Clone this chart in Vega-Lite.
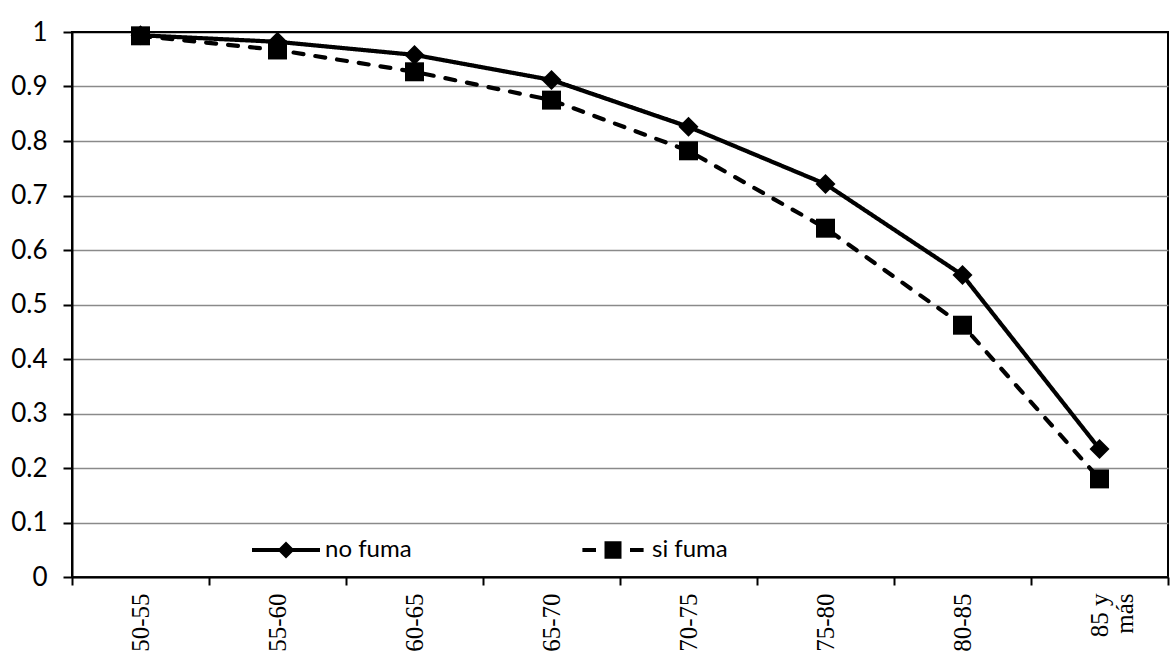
{
  "$schema": "https://vega.github.io/schema/vega-lite/v6.json",
  "width": 1096,
  "height": 545,
  "autosize": {"type": "none"},
  "padding": {"left": 72, "top": 32, "right": 4, "bottom": 85},
  "background": "white",
  "config": {
    "view": {"stroke": "black", "strokeWidth": 2},
    "font": "Lato"
  },
  "data": {
    "values": [
      {"age": "50-55", "series": "no fuma", "p": 0.994},
      {"age": "55-60", "series": "no fuma", "p": 0.982},
      {"age": "60-65", "series": "no fuma", "p": 0.958},
      {"age": "65-70", "series": "no fuma", "p": 0.912},
      {"age": "70-75", "series": "no fuma", "p": 0.826},
      {"age": "75-80", "series": "no fuma", "p": 0.721},
      {"age": "80-85", "series": "no fuma", "p": 0.554},
      {"age": "85 y más", "series": "no fuma", "p": 0.235},
      {"age": "50-55", "series": "si fuma", "p": 0.993},
      {"age": "55-60", "series": "si fuma", "p": 0.967},
      {"age": "60-65", "series": "si fuma", "p": 0.927},
      {"age": "65-70", "series": "si fuma", "p": 0.875},
      {"age": "70-75", "series": "si fuma", "p": 0.782},
      {"age": "75-80", "series": "si fuma", "p": 0.640},
      {"age": "80-85", "series": "si fuma", "p": 0.462},
      {"age": "85 y más", "series": "si fuma", "p": 0.180}
    ]
  },
  "encoding": {
    "x": {
      "field": "age",
      "type": "nominal",
      "sort": null,
      "scale": {"paddingInner": 0, "paddingOuter": 0},
      "axis": {
        "title": null,
        "labelAngle": -90,
        "labelFont": "Liberation Serif",
        "labelFontSize": 25,
        "labelColor": "black",
        "labelPadding": 8,
        "labelLineHeight": 25,
        "labelExpr": "datum.label == '85 y más' ? ['85 y', 'más'] : datum.label",
        "tickBand": "extent",
        "tickSize": 8,
        "tickColor": "black",
        "tickWidth": 2,
        "domainColor": "black",
        "domainWidth": 2,
        "grid": false
      }
    },
    "y": {
      "field": "p",
      "type": "quantitative",
      "scale": {"domain": [0, 1], "nice": false, "zero": true},
      "axis": {
        "title": null,
        "values": [0, 0.1, 0.2, 0.3, 0.4, 0.5, 0.6, 0.7, 0.8, 0.9, 1],
        "format": ".1~f",
        "labelFont": "Lato",
        "labelFontSize": 26,
        "labelColor": "black",
        "labelPadding": 16,
        "tickSize": 9,
        "tickColor": "black",
        "tickWidth": 2,
        "domainColor": "black",
        "domainWidth": 2,
        "grid": true,
        "gridColor": {"condition": {"test": "datum.value >= 1", "value": "black"}, "value": "#8a8a8a"},
        "gridWidth": 1.3
      }
    }
  },
  "layer": [
    {
      "mark": {"type": "line", "strokeWidth": 4.2, "strokeCap": "round", "color": "black"},
      "encoding": {
        "detail": {"field": "series"},
        "strokeDash": {
          "field": "series",
          "type": "nominal",
          "scale": {"domain": ["no fuma", "si fuma"], "range": [[1, 0], [10, 12]]},
          "legend": null
        }
      }
    },
    {
      "mark": {"type": "point", "filled": true, "color": "black", "opacity": 1},
      "encoding": {
        "shape": {
          "field": "series",
          "type": "nominal",
          "scale": {"domain": ["no fuma", "si fuma"], "range": ["diamond", "square"]},
          "legend": null
        },
        "size": {
          "field": "series",
          "type": "nominal",
          "scale": {"domain": ["no fuma", "si fuma"], "range": [400, 360]},
          "legend": null
        }
      }
    },
    {
      "transform": [{"filter": "datum.p < 0"}],
      "mark": {"type": "point", "filled": true, "color": "black", "opacity": 1},
      "encoding": {
        "shape": {
          "field": "series",
          "type": "nominal",
          "scale": {
            "domain": ["no fuma", "si fuma"],
            "range": [
              "M-1,-0.06H1V0.06H-1Z M0,-0.25L0.25,0L0,0.25L-0.25,0Z",
              "M-0.9,-0.06H-0.5V0.06H-0.9Z M0.5,-0.06H0.9V0.06H0.5Z M-0.25,-0.26H0.25V0.26H-0.25Z"
            ]
          },
          "legend": {
            "title": null,
            "orient": "none",
            "direction": "horizontal",
            "legendX": 180,
            "legendY": 484,
            "padding": 0,
            "offset": 0,
            "symbolSize": 4624,
            "symbolFillColor": "black",
            "symbolStrokeWidth": 0,
            "symbolOpacity": 1,
            "labelFont": "Lato",
            "labelFontSize": 24,
            "labelColor": "black",
            "labelOffset": 5,
            "columnPadding": 167
          }
        }
      }
    }
  ],
  "resolve": {"scale": {"shape": "independent"}}
}
